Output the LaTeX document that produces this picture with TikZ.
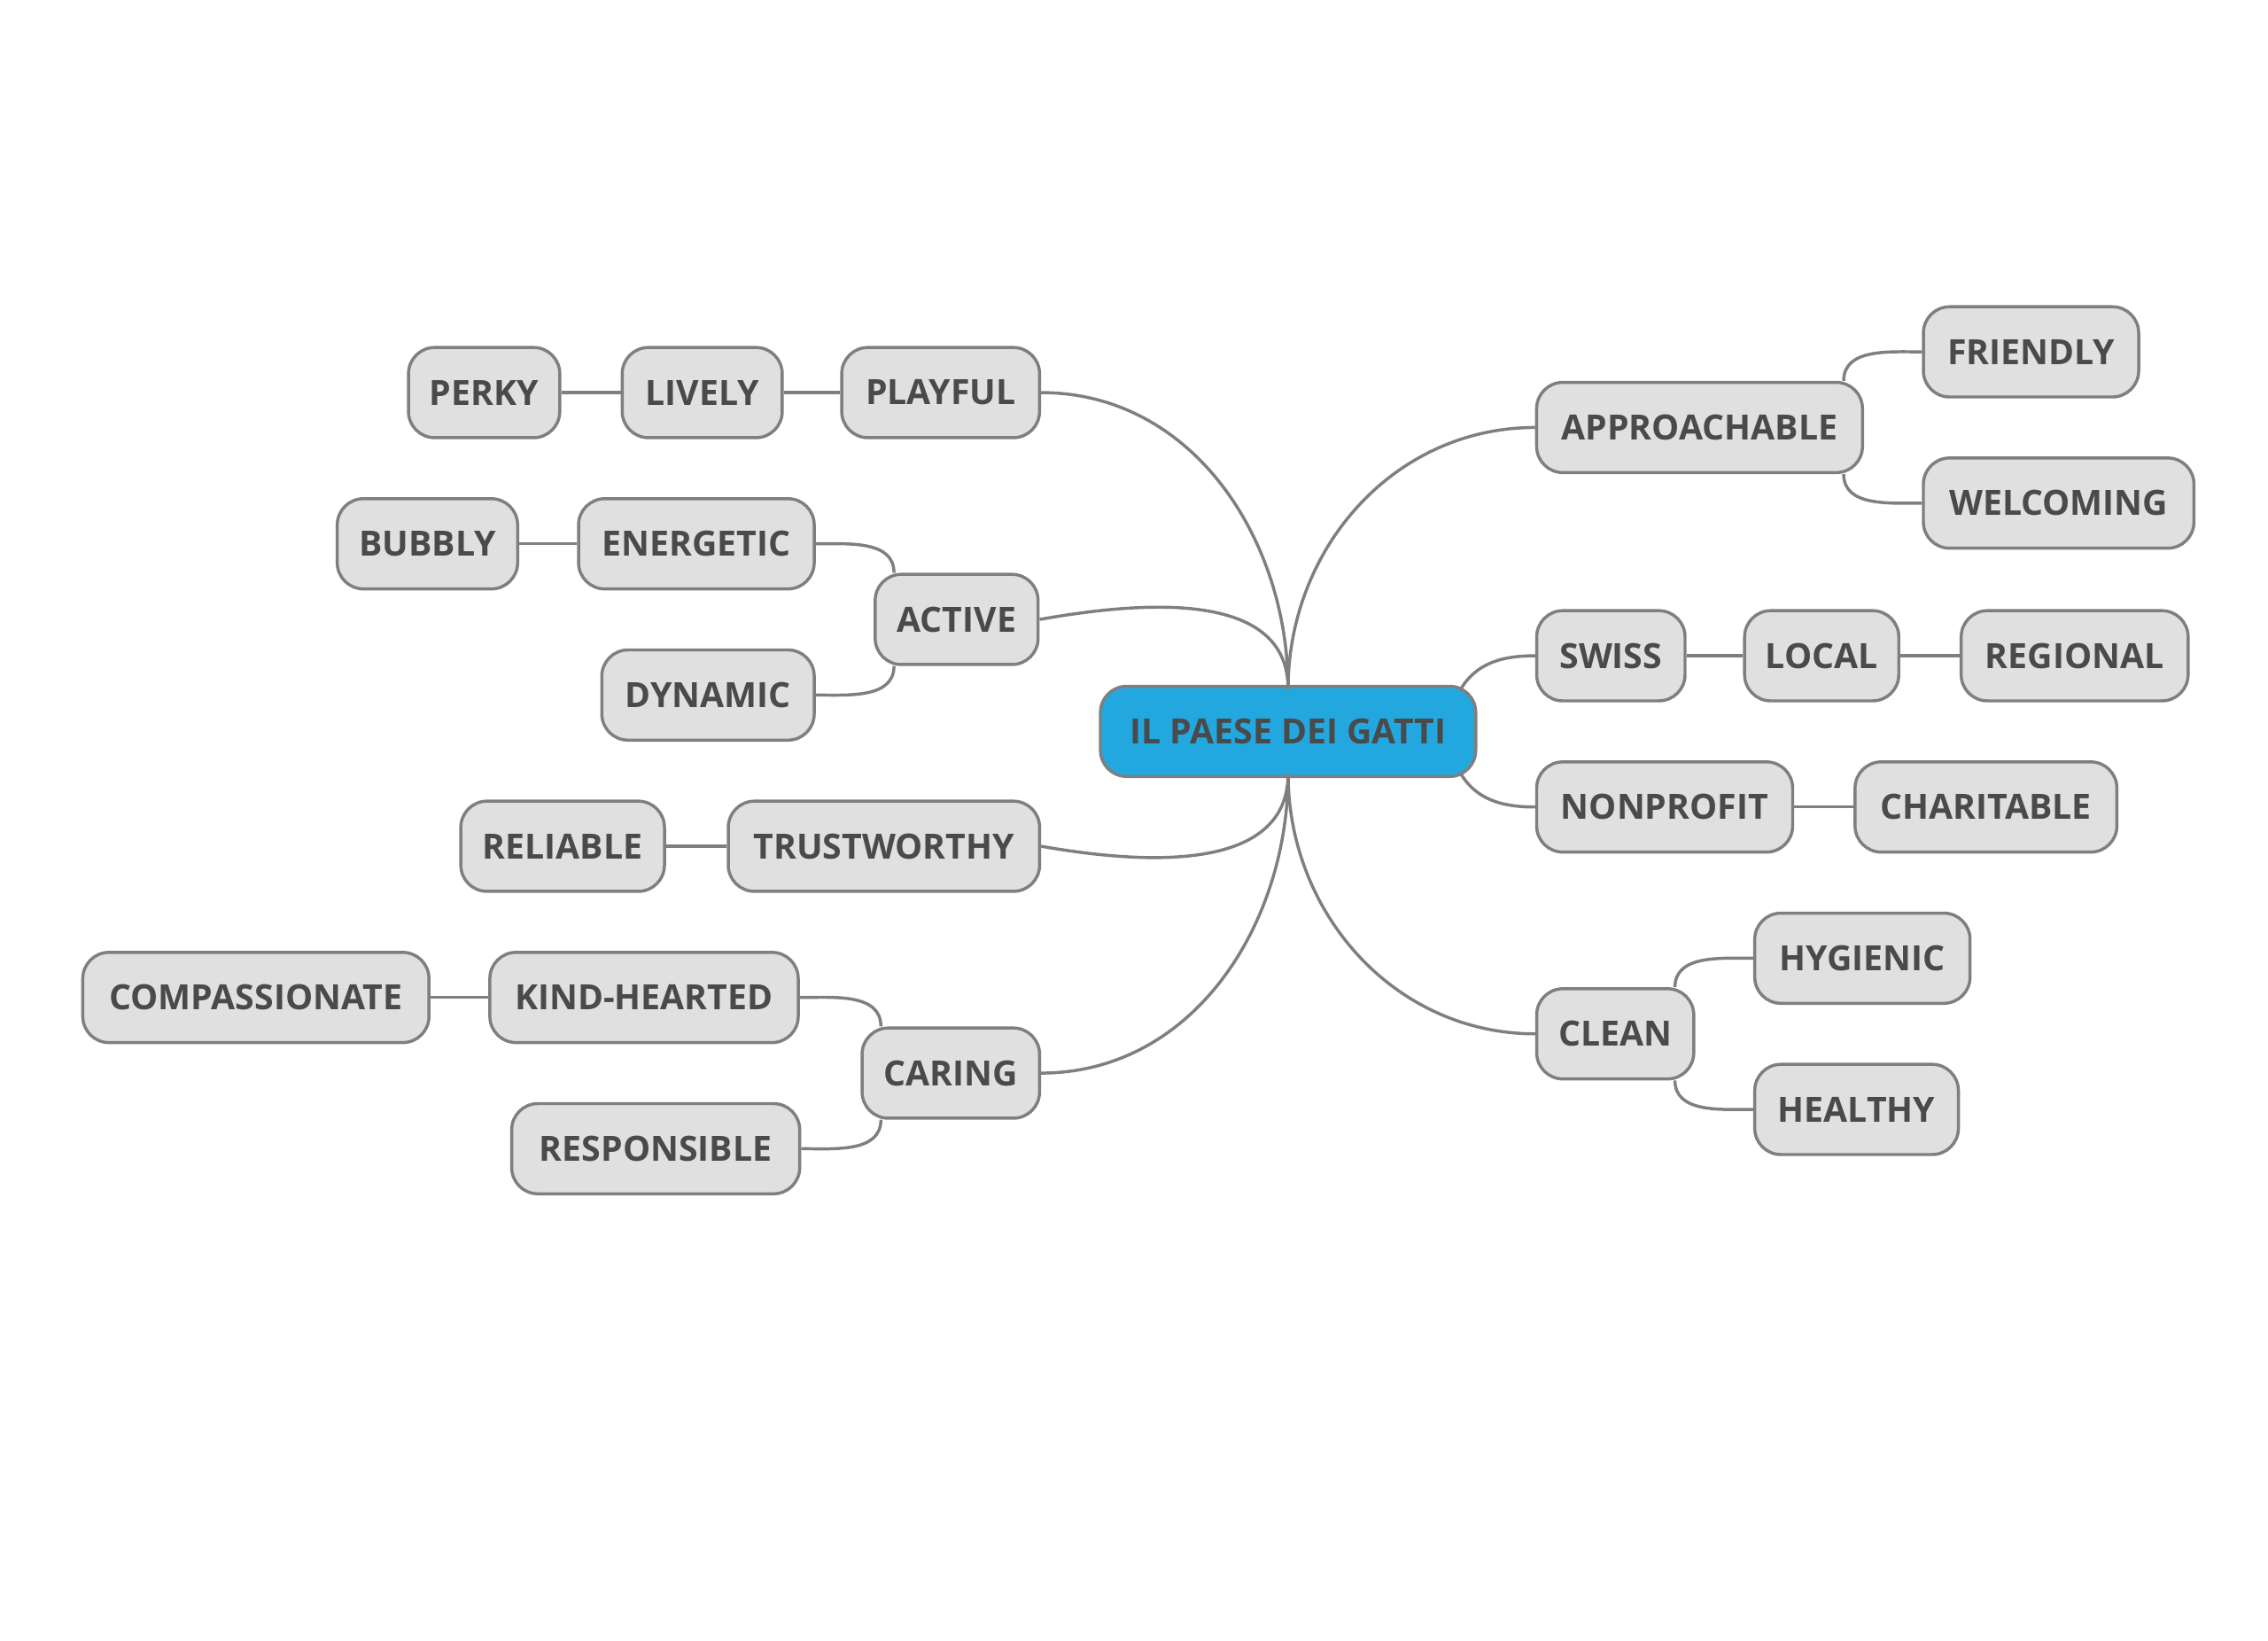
\documentclass[tikz,border=0pt]{standalone}
\usepackage{fontspec}
\setmainfont{Open Sans}
\usetikzlibrary{calc}
\definecolor{topicblue}{HTML}{22A8DE}
\definecolor{topicgray}{HTML}{E0E0E0}
\definecolor{edgegray}{HTML}{7F7F7F}
\definecolor{textgray}{HTML}{4A4A4A}
\begin{document}
\begin{tikzpicture}[x=0.01cm,y=-0.01cm]

	\tikzset{topic/.style={
				rectangle,rounded corners=0.18cm,draw=edgegray,line width=0.6pt,
				fill=topicgray,text=textgray,font=\fontsize{6.8}{8}\selectfont\bfseries,
				minimum height=0.62cm,minimum width=#1,inner sep=0pt}
	}
	\tikzset{root topic/.style={topic=#1,fill=topicblue}}
	\tikzset{branch/.style={draw=edgegray,line width=0.6pt}}

	\useasboundingbox (0,0) rectangle (1560,1128);

	\node[root topic=2.58cm] (root) at (886,503) {IL PAESE DEI GATTI};

	% left side
	\node[topic=1.36cm] (playful) at (647,270) {PLAYFUL};
	\node[topic=1.10cm] (lively) at (483,270) {LIVELY};
	\node[topic=1.04cm] (perky) at (333,270) {PERKY};
	\node[topic=1.12cm] (active) at (658,426) {ACTIVE};
	\node[topic=1.62cm] (energetic) at (479,374) {ENERGETIC};
	\node[topic=1.24cm] (bubbly) at (294,374) {BUBBLY};
	\node[topic=1.46cm] (dynamic) at (487,478) {DYNAMIC};
	\node[topic=2.14cm] (trustworthy) at (608,582) {TRUSTWORTHY};
	\node[topic=1.40cm] (reliable) at (387,582) {RELIABLE};
	\node[topic=1.22cm] (caring) at (654,738) {CARING};
	\node[topic=2.12cm] (kind) at (443,686) {KIND-HEARTED};
	\node[topic=2.38cm] (compassionate) at (176,686) {COMPASSIONATE};
	\node[topic=1.98cm] (responsible) at (451,790) {RESPONSIBLE};

	% right side
	\node[topic=2.24cm] (approachable) at (1169,294) {APPROACHABLE};
	\node[topic=1.48cm] (friendly) at (1397,242) {FRIENDLY};
	\node[topic=1.86cm] (welcoming) at (1416,346) {WELCOMING};
	\node[topic=1.02cm] (swiss) at (1108,451) {SWISS};
	\node[topic=1.06cm] (local) at (1253,451) {LOCAL};
	\node[topic=1.56cm] (regional) at (1427,451) {REGIONAL};
	\node[topic=1.76cm] (nonprofit) at (1145,555) {NONPROFIT};
	\node[topic=1.80cm] (charitable) at (1366,555) {CHARITABLE};
	\node[topic=1.08cm] (clean) at (1111,711) {CLEAN};
	\node[topic=1.48cm] (hygienic) at (1281,659) {HYGIENIC};
	\node[topic=1.40cm] (healthy) at (1277,763) {HEALTHY};

	\coordinate (top) at ($(root.north)+(0,3)$);
	\coordinate (bottom) at ($(root.south)+(0,-3)$);

	% main branches
	\draw[branch] (top) to[out=-90+180,in=0] (playful.east);
	\draw[branch] (top) to[out=90,in=10] (active.east);
	\draw[branch] (bottom) to[out=-90,in=-10] (trustworthy.east);
	\draw[branch] (bottom) to[out=-90,in=0] (caring.east);
	\draw[branch] (top) to[out=90,in=180] (approachable.west);
	\draw[branch] (root.north east) ++(-12,4) to[out=60,in=180] (swiss.west);
	\draw[branch] (root.south east) ++(-12,-4) to[out=-60,in=180] (nonprofit.west);
	\draw[branch] (bottom) to[out=-90,in=180] (clean.west);

	% sub branches
	\draw[branch] (playful) -- (lively);
	\draw[branch] (lively) -- (perky);
	\draw[branch] (energetic) -- (bubbly);
	\draw[branch] (energetic.east) to[out=0,in=90] ($(active.north west)+(14,0)$);
	\draw[branch] (dynamic.east) to[out=0,in=-90] ($(active.south west)+(14,0)$);
	\draw[branch] (trustworthy) -- (reliable);
	\draw[branch] (kind) -- (compassionate);
	\draw[branch] (kind.east) to[out=0,in=90] ($(caring.north west)+(14,0)$);
	\draw[branch] (responsible.east) to[out=0,in=-90] ($(caring.south west)+(14,0)$);
	\draw[branch] ($(approachable.north east)+(-14,0)$) to[out=90,in=180] (friendly.west);
	\draw[branch] ($(approachable.south east)+(-14,0)$) to[out=-90,in=180] (welcoming.west);
	\draw[branch] (swiss) -- (local);
	\draw[branch] (local) -- (regional);
	\draw[branch] (nonprofit) -- (charitable);
	\draw[branch] ($(clean.north east)+(-14,0)$) to[out=90,in=180] (hygienic.west);
	\draw[branch] ($(clean.south east)+(-14,0)$) to[out=-90,in=180] (healthy.west);

\end{tikzpicture}
\end{document}
